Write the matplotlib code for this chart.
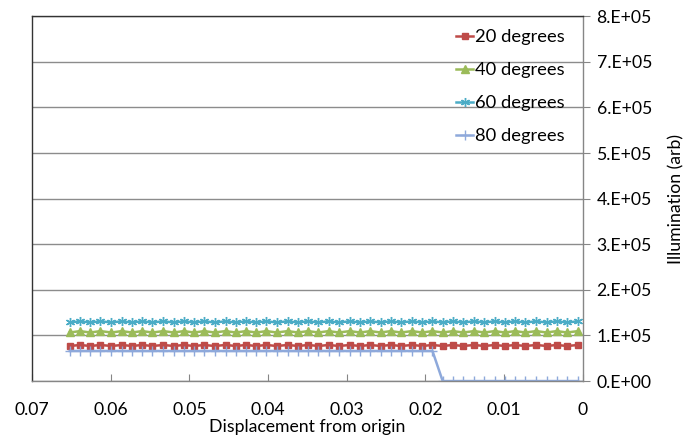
import matplotlib
matplotlib.use("Agg")
import matplotlib.pyplot as plt
from matplotlib.ticker import FuncFormatter, MultipleLocator

plt.rcParams['font.family'] = ['Lato', 'DejaVu Sans']

# displacement values (50 samples)
displacement = [0.0652, 0.0639, 0.0626, 0.0613, 0.0599, 0.0586, 0.0573, 0.0560, 0.0547, 0.0533,
                0.0520, 0.0507, 0.0494, 0.0481, 0.0468, 0.0454, 0.0441, 0.0428, 0.0415, 0.0402,
                0.0389, 0.0375, 0.0362, 0.0349, 0.0336, 0.0323, 0.0310, 0.0296, 0.0283, 0.0270,
                0.0257, 0.0244, 0.0231, 0.0217, 0.0204, 0.0191, 0.0178, 0.0165, 0.0152, 0.0138,
                0.0125, 0.0112, 0.0099, 0.0086, 0.0073, 0.0059, 0.0046, 0.0033, 0.0020, 0.0006]

deg20 = [77000, 79000] * 25
deg40 = [106500, 109500] * 25
deg60 = [128500, 131000] * 25
deg80 = [66000] * 36 + [0] * 14

labels = ['20 degrees', '40 degrees', '60 degrees', '80 degrees']
colors = ['#BE4B48', '#9BBB59', '#4BACC6', '#8EA9DB']
markers = ['s', '^', (6, 2, 0), '+']
msizes = [4.5, 5.5, 6.5, 6.5]
series = [deg20, deg40, deg60, deg80]

fig = plt.figure(figsize=(6.88, 4.37), dpi=100)
ax = fig.add_axes([0.0465, 0.128, 0.8005, 0.835])

for vals, lab, c, m, ms in zip(series, labels, colors, markers, msizes):
    ax.plot(displacement, vals, color=c, marker=m, markersize=ms, lw=1.8,
            markeredgecolor=c, markerfacecolor=c, markeredgewidth=1.0, label=lab)

ax.set_xlim(0.07, 0)
ax.set_ylim(0, 8e5)
ax.xaxis.set_major_locator(MultipleLocator(0.01))
ax.yaxis.set_major_locator(MultipleLocator(1e5))
ax.xaxis.set_major_formatter(FuncFormatter(lambda v, p: '0' if abs(v) < 1e-9 else f'{v:.2f}'))

def yfmt(v, p):
    if v == 0:
        return '0.E+00'
    return f'{v/1e5:.0f}.E+05'
ax.yaxis.set_major_formatter(FuncFormatter(yfmt))

ax.yaxis.tick_right()
ax.yaxis.set_label_position('right')
ax.tick_params(axis='x', direction='in', length=5, color='#868686', labelsize=12.7, pad=15)
ax.tick_params(axis='y', direction='out', length=5, color='#868686', labelsize=12.7, pad=5)
ax.grid(axis='y', color='#8c8c8c', lw=1.0)
ax.set_axisbelow(True)

for s in ['top', 'left']:
    ax.spines[s].set_color('#333333')
for s in ['bottom', 'right']:
    ax.spines[s].set_color('#868686')
for s in ax.spines.values():
    s.set_linewidth(1.0)

ax.set_xlabel('Displacement from origin', fontsize=12.7, labelpad=1)
ax.set_ylabel('Illumination (arb)', fontsize=12.7, labelpad=12)

ax.legend(loc='upper right', bbox_to_anchor=(0.98, 0.984), frameon=False, fontsize=13.2,
          handlelength=0.9, handletextpad=0.1, labelspacing=0.92, borderaxespad=0.0)

fig.savefig('out.png', dpi=100)
